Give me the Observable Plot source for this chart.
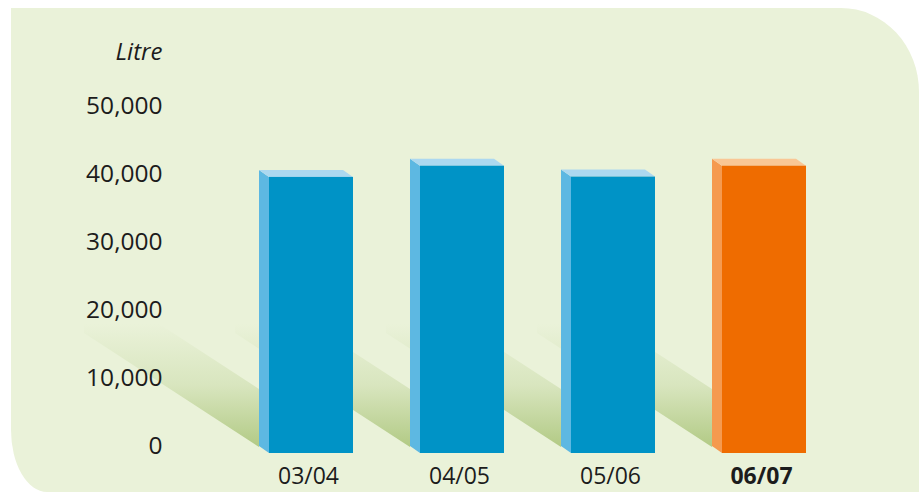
<!DOCTYPE html>
<html><head><meta charset="utf-8">
<script src="https://cdn.jsdelivr.net/npm/d3@7"></script>
<script src="https://cdn.jsdelivr.net/npm/@observablehq/plot@0.6"></script>
<style>
body{margin:0;background:#ffffff;}
#chart svg{display:block;}
</style>
</head><body><div id="chart"></div>
<script>
// ---- data ----
const years = ["03/04", "04/05", "05/06", "06/07"];
const litres = [40600, 42250, 40650, 42250];
const highlighted = ["06/07"];
const yTicks = [0, 10000, 20000, 30000, 40000, 50000];
const unitLabel = "Litre";

const data = years.map((year, i) => ({year, litres: litres[i], hi: highlighted.includes(year)}));

// ---- styles ----
const palette = {
  blue:   {front: "#0093c6", side: "#5db8e2", top: "#acd8f0"},
  orange: {front: "#ef6c00", side: "#f59a4f", top: "#f9c795"}
};
const bg = "#eaf2d9";
const shadowColor = "#b2ca85";
const depth = {dx: 10, dy: 7};
const font = "'Open Sans', 'DejaVu Sans', sans-serif";
const ink = "#1c1c1c";
const fmt = d3.format(",");

// background panel with rounded top-right and bottom-left corners
function panel(index, scales, values, dims) {
  const {width, height} = dims;
  const x0 = 11, y0 = 8, x1 = width, y1 = height - 1;
  const d = `M${x0},${y0} H${x1 - 78} A78,84 0 0 1 ${x1},${y0 + 84} V${y1} H${x0 + 36} A36,62 0 0 1 ${x0},${y1 - 62} Z`;
  const g = d3.create("svg:g");
  g.append("path").attr("d", d).attr("fill", bg);
  return g.node();
}

// diagonal gradient shadows behind each bar
function shadows(index, {x, y}) {
  const g = d3.create("svg:g");
  const yb = y(0);
  const grad = g.append("defs").append("linearGradient")
    .attr("id", "shadeGrad").attr("gradientUnits", "userSpaceOnUse")
    .attr("x1", 0).attr("x2", 0).attr("y1", yb - 122).attr("y2", yb + 1);
  grad.append("stop").attr("offset", 0).attr("stop-color", shadowColor).attr("stop-opacity", 0);
  grad.append("stop").attr("offset", 0.5).attr("stop-color", shadowColor).attr("stop-opacity", 0.32);
  grad.append("stop").attr("offset", 1).attr("stop-color", shadowColor).attr("stop-opacity", 1);
  for (const d of data) {
    const xs = x(d.year);
    const sx = 175, sy = 114, band = 57;
    const pts = [[xs, yb + 1], [xs, yb - band], [xs - sx, yb - band - sy], [xs - sx, yb + 1 - sy]];
    g.append("polygon").attr("points", pts.map(p => p.join(",")).join(" ")).attr("fill", "url(#shadeGrad)");
  }
  return g.node();
}

// side and top faces of the 3D bars
function faces(index, {x, y}) {
  const g = d3.create("svg:g");
  const bw = x.bandwidth();
  const yb = y(0);
  for (const d of data) {
    const c = d.hi ? palette.orange : palette.blue;
    const xs = x(d.year), yt = y(d.litres);
    const side = [[xs, yt], [xs + depth.dx, yt + depth.dy], [xs + depth.dx, yb + depth.dy], [xs, yb]];
    const top = [[xs, yt], [xs + bw, yt], [xs + bw + depth.dx, yt + depth.dy], [xs + depth.dx, yt + depth.dy]];
    g.append("polygon").attr("points", side.map(p => p.join(",")).join(" ")).attr("fill", c.side);
    g.append("polygon").attr("points", top.map(p => p.join(",")).join(" ")).attr("fill", c.top);
  }
  return g.node();
}

const chart = Plot.plot({
  width: 919,
  height: 493,
  marginTop: 106,
  marginBottom: 47,
  marginLeft: 170,
  marginRight: 0,
  style: {background: "transparent", fontFamily: font, color: ink},
  x: {type: "band", domain: years, range: [258, 796], paddingInner: 0.445, paddingOuter: 0, axis: null},
  y: {domain: [0, 50000], range: [446, 106], axis: null},
  color: {type: "identity"},
  marks: [
    panel,
    shadows,
    faces,
    Plot.barY(data, {x: "year", y: "litres", fill: d => d.hi ? palette.orange.front : palette.blue.front, dx: depth.dx, dy: depth.dy}),
    Plot.text(yTicks, {y: d => d, text: d => fmt(d), frameAnchor: "left", textAnchor: "end", lineAnchor: "middle", dx: -8, fontSize: 24.5, fill: ink}),
    Plot.text([unitLabel], {text: d => d, frameAnchor: "top-left", textAnchor: "end", lineAnchor: "middle", dx: -8, dy: -54, fontSize: 24, fontStyle: "italic", fill: ink}),
    Plot.text(data.filter(d => !d.hi), {x: "year", text: "year", frameAnchor: "bottom", lineAnchor: "middle", dx: 7, dy: 30, fontSize: 23, fill: ink}),
    Plot.text(data.filter(d => d.hi), {x: "year", text: "year", frameAnchor: "bottom", lineAnchor: "middle", dx: 7, dy: 30, fontSize: 23, fontWeight: "bold", fill: ink})
  ]
});
document.getElementById("chart").appendChild(chart);
</script>
</body></html>
